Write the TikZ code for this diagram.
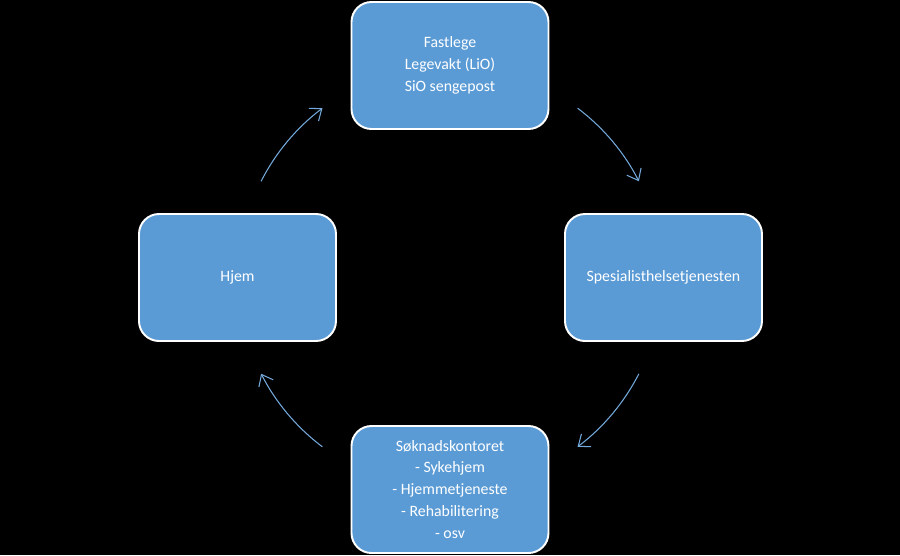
\documentclass[tikz,border=0pt]{standalone}
\usepackage{fontspec}
\setmainfont{Carlito}
\usetikzlibrary{arrows.meta}
\definecolor{boxblue}{HTML}{5B9BD5}
\begin{document}
\begin{tikzpicture}[
      box/.style={rectangle, rounded corners=0.4cm, minimum width=3.94cm, minimum height=2.54cm,
          fill=boxblue, draw=white, line width=1.1pt, text=white, align=center,
          font=\fontsize{9}{12.5}\selectfont},
      arr/.style={line width=0.6pt, draw=boxblue!85!white, -{Straight Barb[length=2mm, width=3.2mm]}}
    ]
    \fill[black] (-9,-5.55) rectangle (9,5.55);
    \useasboundingbox (-9,-5.55) rectangle (9,5.55);
    \coordinate (c) at (0,0);

    \node[box] (lege) at (0,4.24) {Fastlege\\Legevakt (LiO)\\SiO sengepost};
    \node[box] (spes) at (4.27,0) {Spesialisthelsetjenesten};
    \node[box] (sok) at (0,-4.24) {Søknadskontoret\\- Sykehjem\\- Hjemmetjeneste\\- Rehabilitering\\- osv};
    \node[box] (hjem) at (-4.25,0) {Hjem};

    \draw[arr] (c) ++(53:4.24) arc (53:27:4.24);
    \draw[arr] (c) ++(-27:4.24) arc (-27:-53:4.24);
    \draw[arr] (c) ++(233:4.24) arc (233:207:4.24);
    \draw[arr] (c) ++(153:4.24) arc (153:127:4.24);
  \end{tikzpicture}
\end{document}
